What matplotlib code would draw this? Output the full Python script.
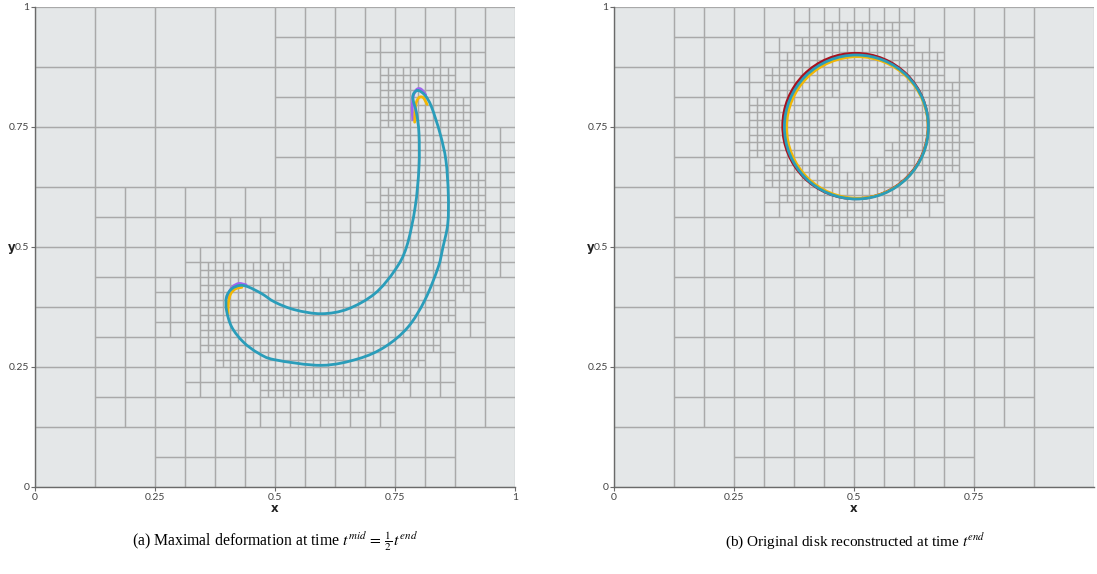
import numpy as np
import matplotlib
matplotlib.use("Agg")
import matplotlib.pyplot as plt
from matplotlib.collections import LineCollection
from matplotlib.patches import Circle, PathPatch
from matplotlib.path import Path

# ---------------- data ----------------
# Panel (a): deformed interface at t_mid (teal, closed loop)
shape_a_x = [0.797, 0.8125, 0.826, 0.844, 0.856, 0.861, 0.860, 0.850, 0.840, 0.8125,
             0.777, 0.729, 0.673, 0.597, 0.500, 0.465, 0.434, 0.410, 0.399, 0.399,
             0.410, 0.427, 0.444, 0.472, 0.500, 0.542, 0.597, 0.652, 0.708, 0.750,
             0.774, 0.792, 0.800, 0.800, 0.795, 0.787]
shape_a_y = [0.826, 0.816, 0.792, 0.736, 0.681, 0.611, 0.549, 0.500, 0.458, 0.390,
             0.333, 0.292, 0.267, 0.2535, 0.265, 0.279, 0.302, 0.333, 0.368, 0.396,
             0.413, 0.420, 0.417, 0.403, 0.385, 0.369, 0.361, 0.371, 0.403, 0.452,
             0.500, 0.583, 0.667, 0.736, 0.778, 0.8125]
# other reconstructions, visible only near the tips
purple_tip_x = [0.787, 0.786, 0.788, 0.795, 0.804, 0.814]
purple_tip_y = [0.765, 0.790, 0.814, 0.828, 0.829, 0.817]
purple_lobe_x = [0.401, 0.405, 0.413, 0.425, 0.440]
purple_lobe_y = [0.395, 0.407, 0.418, 0.424, 0.421]
yellow_tip_x = [0.791, 0.792, 0.795, 0.801, 0.809, 0.817]
yellow_tip_y = [0.760, 0.785, 0.803, 0.812, 0.811, 0.797]
yellow_lobe_x = [0.402, 0.403, 0.408, 0.418, 0.431]
yellow_lobe_y = [0.360, 0.385, 0.403, 0.413, 0.416]

# Panel (b): reconstructed disks at t_end (center x, center y, radius)
disk_teal = (0.505, 0.750, 0.150)
disk_red = (0.503, 0.752, 0.1515)
disk_yellow = (0.507, 0.749, 0.1475)

# Panel (b): coarse (1/8) cells that are split at least once, top row first
refined_coarse_b = [
    ".######.",
    ".######.",
    ".######.",
    ".######.",
    ".######.",
    ".######.",
    ".######.",
    "..####..",
]

ticks_a_x = [0, 0.25, 0.5, 0.75, 1]
ticks_b_x = [0, 0.25, 0.5, 0.75]
ticks_y = [0, 0.25, 0.5, 0.75, 1]
tick_labels = {0: "0", 0.25: "0.25", 0.5: "0.5", 0.75: "0.75", 1: "1"}

caption_a = r"(a) Maximal deformation at time $t^{mid}\,=\,\frac{1}{2}\,t^{end}$"
caption_b = r"(b) Original disk reconstructed at time $t^{end}$"

# ---------------- styling ----------------
TEAL = "#2a9dba"
PURPLE = "#a064f0"
YELLOW = "#f2b705"
RED = "#a8121e"
FACE = "#e4e7e8"
MESH = "#a9a9a9"

plt.rcParams["mathtext.fontset"] = "stix"


def smooth_path(xs, ys, closed):
    """Catmull-Rom curve through the given points, as cubic Bezier segments."""
    P = np.column_stack([xs, ys]).astype(float)
    n = len(P)
    if closed:
        get = lambda i: P[i % n]
        nseg = n
    else:
        get = lambda i: P[min(max(i, 0), n - 1)]
        nseg = n - 1
    verts = [get(0)]
    codes = [Path.MOVETO]
    for i in range(nseg):
        p0, p1, p2, p3 = get(i - 1), get(i), get(i + 1), get(i + 2)
        verts += [p1 + (p2 - p0) / 6, p2 - (p3 - p1) / 6, p2]
        codes += [Path.CURVE4] * 3
    return Path(verts, codes)


def densify(xs, ys, closed, n=20):
    pts = smooth_path(xs, ys, closed).interpolated(n).vertices
    return pts[:, 0], pts[:, 1]


def quadtree(px, py, margins, coarse_mask=None, base=3, maxlev=6):
    cells = []
    n = 2 ** base

    def box_dist(x0, y0, h):
        dx = np.maximum(np.maximum(x0 - px, px - (x0 + h)), 0)
        dy = np.maximum(np.maximum(y0 - py, py - (y0 + h)), 0)
        return np.sqrt(dx * dx + dy * dy).min()

    def split(x0, y0, h, lev):
        if lev >= maxlev:
            return False
        if lev == base and coarse_mask is not None:
            col = int(round(x0 * n))
            row = n - 1 - int(round(y0 * n))
            return coarse_mask[row][col] == "#"
        return box_dist(x0, y0, h) < margins[lev - base]

    def rec(x0, y0, h, lev):
        if split(x0, y0, h, lev):
            h2 = h / 2
            for ox in (0, h2):
                for oy in (0, h2):
                    rec(x0 + ox, y0 + oy, h2, lev + 1)
        else:
            cells.append((x0, y0, h))

    for i in range(n):
        for j in range(n):
            rec(i / n, j / n, 1 / n, base)
    return cells


def draw_mesh(ax, cells):
    segs = []
    for x0, y0, h in cells:
        segs.append([(x0, y0), (x0 + h, y0)])
        segs.append([(x0, y0 + h), (x0 + h, y0 + h)])
        segs.append([(x0, y0), (x0, y0 + h)])
        segs.append([(x0 + h, y0), (x0 + h, y0 + h)])
    ax.add_collection(LineCollection(segs, colors=MESH, linewidths=0.9, zorder=1))


def draw_curve(ax, xs, ys, color, closed, z):
    ax.add_patch(PathPatch(smooth_path(xs, ys, closed), fill=False, edgecolor=color,
                           lw=2.0, zorder=z, capstyle="round", joinstyle="round"))


def style_axes(ax, xticks):
    ax.set_xlim(0, 1)
    ax.set_ylim(0, 1)
    ax.set_facecolor(FACE)
    for s in ("top", "right"):
        ax.spines[s].set_visible(False)
    for s in ("left", "bottom"):
        ax.spines[s].set_color("#6a6a6a")
        ax.spines[s].set_linewidth(1.0)
    ax.set_xticks(xticks)
    ax.set_xticklabels([tick_labels[t] for t in xticks])
    ax.set_yticks(ticks_y)
    ax.set_yticklabels([tick_labels[t] for t in ticks_y])
    ax.tick_params(direction="out", length=3, width=0.8, color="#6a6a6a",
                   labelcolor="#444444", labelsize=7.5, pad=1)
    for lab in ax.get_xticklabels() + ax.get_yticklabels():
        lab.set_family("Lato")
    ax.text(0.5, -0.031, "x", transform=ax.transAxes, ha="center", va="top",
            fontsize=8.5, fontweight="bold", color="#222222", family="DejaVu Sans")
    ax.text(-0.040, 0.5, "y", transform=ax.transAxes, ha="right", va="center",
            fontsize=8.5, fontweight="bold", color="#222222", family="DejaVu Sans")


fig = plt.figure(figsize=(10.97, 5.74), dpi=100)
W, H = 1097, 574
ax_a = fig.add_axes([35 / W, (574 - 487) / H, 480 / W, 480 / H])
ax_b = fig.add_axes([614 / W, (574 - 487) / H, 480 / W, 480 / H])

# ---- panel (a)
pxa, pya = densify(shape_a_x, shape_a_y, True)
draw_mesh(ax_a, quadtree(pxa, pya, margins=[0.20, 0.09, 0.047]))
draw_curve(ax_a, purple_tip_x, purple_tip_y, PURPLE, False, 3)
draw_curve(ax_a, purple_lobe_x, purple_lobe_y, PURPLE, False, 3)
draw_curve(ax_a, yellow_tip_x, yellow_tip_y, YELLOW, False, 3)
draw_curve(ax_a, yellow_lobe_x, yellow_lobe_y, YELLOW, False, 3)
draw_curve(ax_a, shape_a_x, shape_a_y, TEAL, True, 4)
style_axes(ax_a, ticks_a_x)

# ---- panel (b)
th = np.linspace(0, 2 * np.pi, 400)
pxb = disk_teal[0] + disk_teal[2] * np.cos(th)
pyb = disk_teal[1] + disk_teal[2] * np.sin(th)
draw_mesh(ax_b, quadtree(pxb, pyb, margins=[0.30, 0.07, 0.047], coarse_mask=refined_coarse_b))
for (cx, cy, r), col, z in ((disk_red, RED, 3), (disk_yellow, YELLOW, 3), (disk_teal, TEAL, 4)):
    ax_b.add_patch(Circle((cx, cy), r, fill=False, edgecolor=col, lw=2.0, zorder=z))
style_axes(ax_b, ticks_b_x)

fig.text(275 / W, 1 - 541 / H, caption_a, ha="center", va="center",
         fontsize=11.3, family="Liberation Serif")
fig.text(855 / W, 1 - 541 / H, caption_b, ha="center", va="center",
         fontsize=11.0, family="Liberation Serif")

fig.savefig("out.png", dpi=100)
